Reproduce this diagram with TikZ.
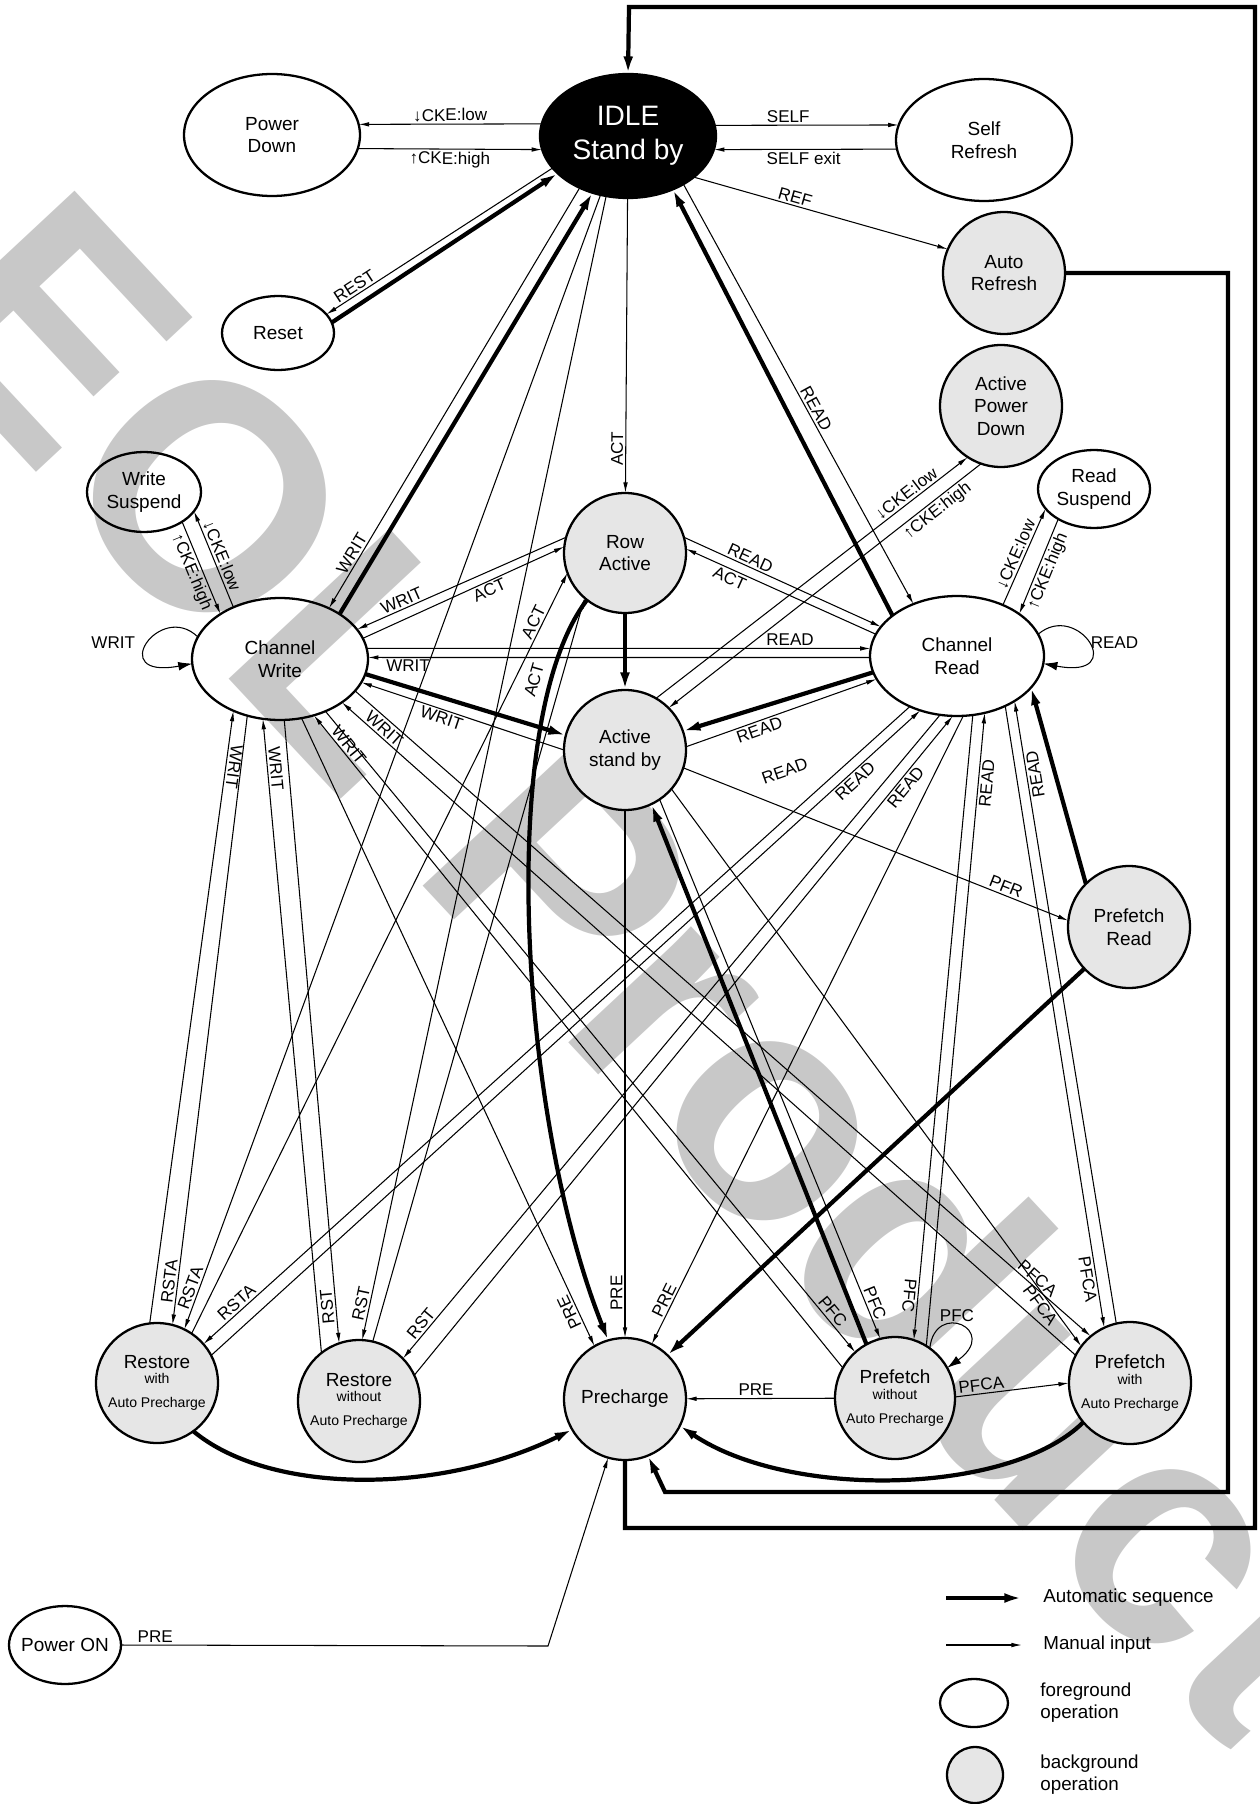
\documentclass[tikz,border=0pt]{standalone}
\usepackage{fontspec}
\setmainfont{Liberation Sans}
\usetikzlibrary{shapes.geometric,arrows.meta}

\definecolor{bgfill}{RGB}{230,230,230}
\definecolor{wmgray}{RGB}{200,200,200}
\newcommand{\smalltxt}{\fontsize{8}{9.5}\selectfont}

\tikzset{
  fgstate/.style={ellipse, draw, line width=1.3pt, inner sep=0pt, outer sep=0pt},
  bgstate/.style={fgstate, fill=bgfill},
  sz/.style 2 args={minimum width=#1cm, minimum height=#2cm},
  txt/.style={label={[align=center, font=\fontsize{10.8}{12.8}\selectfont]center:#1}},
  manarrow/.style={line width=0.6pt, >={Latex[length=6pt,width=2.6pt]}, ->},
  autoarrow/.style={line width=2.4pt, >={Latex[length=10pt,width=5.6pt]}, ->},
  looparrow/.style={line width=0.6pt, >={Latex[length=8pt,width=5pt]}, ->},
  lblp/.style={font=\fontsize{9.7}{11}\selectfont, inner sep=1.2pt},
  lbl/.style={lblp, sloped, allow upside down},
  legtxt/.style={anchor=west, align=left, inner sep=0pt, font=\fontsize{10.7}{12.5}\selectfont},
}

\begin{document}
\begin{tikzpicture}[x=0.02cm, y=-0.02cm]
\useasboundingbox (0,0) rectangle (1260,1804);

% watermark
\node[anchor=base west, rotate=-47, inner sep=0pt, text=wmgray,
      font=\fontsize{182}{182}\selectfont\bfseries] (wmark) at (-101,325) {EOL Product};

% states
\node[fgstate, fill=black, sz={3.52}{2.48},
      label={[align=center, text=white, font=\fontsize{16}{19.3}\selectfont]center:IDLE\\Stand by}] (idle) at (628,136) {};
\node[fgstate, sz={3.52}{2.44}, txt={Power\\Down}] (pwrdown) at (272,135) {};
\node[fgstate, sz={3.52}{2.44}, txt={Self\\Refresh}] (selfref) at (984,140) {};
\node[bgstate, sz={2.44}{2.44}, txt={Auto\\Refresh}] (autoref) at (1004,273) {};
\node[fgstate, sz={2.24}{1.48}, txt={Reset}] (reset) at (278,333) {};
\node[bgstate, sz={2.44}{2.44}, txt={Active\\Power\\Down}] (apd) at (1001,406) {};
\node[fgstate, sz={2.28}{1.60}, txt={Write\\Suspend}] (wsusp) at (144,492) {};
\node[fgstate, sz={2.24}{1.56}, txt={Read\\Suspend}] (rsusp) at (1094,489) {};
\node[bgstate, sz={2.44}{2.40}, txt={Row\\Active}] (rowact) at (625,553) {};
\node[fgstate, sz={3.52}{2.44}, txt={Channel\\Write}] (chw) at (280,659) {};
\node[fgstate, sz={3.48}{2.40}, txt={Channel\\Read}] (chr) at (957,656) {};
\node[bgstate, sz={2.44}{2.40}, txt={Active\\stand by}] (actsb) at (625,750) {};
\node[bgstate, sz={2.44}{2.44}, txt={Prefetch\\Read}] (pfread) at (1129,927) {};
\node[bgstate, sz={2.44}{2.40}, txt={Restore\\[-4pt]{\smalltxt with}\\[1pt]{\smalltxt Auto Precharge}}] (rsta) at (157,1383) {};
\node[bgstate, sz={2.44}{2.44}, txt={Restore\\[-4pt]{\smalltxt without}\\[1pt]{\smalltxt Auto Precharge}}] (rst) at (359,1401) {};
\node[bgstate, sz={2.44}{2.44}, txt={Precharge}] (prech) at (625,1399) {};
\node[bgstate, sz={2.40}{2.44}, txt={Prefetch\\[-4pt]{\smalltxt without}\\[1pt]{\smalltxt Auto Precharge}}] (pfc) at (895,1398) {};
\node[bgstate, sz={2.44}{2.44}, txt={Prefetch\\[-4pt]{\smalltxt with}\\[1pt]{\smalltxt Auto Precharge}}] (pfca) at (1130,1383) {};
\node[fgstate, sz={2.24}{1.56}, txt={Power ON}] (pwron) at (65,1645) {};

% IDLE and its neighbours
\draw[manarrow,<-] (pwrdown.7) -- node[lbl,above]{↓CKE:low} (idle.172);
\draw[manarrow] (pwrdown.-9) -- node[lbl,below]{↑CKE:high} (idle.189);
\draw[manarrow] (idle.7) -- node[lbl,above,pos=0.4]{SELF} (selfref.170);
\draw[manarrow,<-] (idle.-9) -- node[lbl,below,pos=0.49]{SELF exit} (selfref.186);
\draw[manarrow] (idle.-32) -- node[lbl,above,pos=0.39]{REF} (autoref.157);
\draw[manarrow,<-] (reset.21) -- node[lbl,above,pos=0.145]{REST} (idle.203);
\draw[autoarrow] (reset.11) -- (idle.208);
\draw[manarrow,<-] (chw.46) -- node[lbl,above,pos=0.12]{WRIT} (idle.227);
\draw[autoarrow] (chw.37) -- (idle.238);
\draw[manarrow] (idle.-41) -- node[lbl,above,pos=0.545]{READ} (chr.130);
\draw[autoarrow] (chr.148.5) -- (idle.-50.5);
\draw[manarrow,<-] (rowact) -- node[lbl,above,pos=0.15]{ACT} (idle);
\draw[autoarrow] (rowact) -- (actsb);

% outer frames
\draw[autoarrow] (autoref.east) -| (1228,1492) -- (665,1492) -- (prech.-68);
\draw[autoarrow] (prech.south) |- (1255,1528) |- (629,7) -- (idle.north);

% channel write
\draw[manarrow] (wsusp.-38) -- node[lbl,below]{↑CKE:high} (chw.143);
\draw[manarrow,<-] (wsusp.-21) -- node[lbl,above]{↓CKE:low} (chw.132);
\draw[looparrow] (chw.165) .. controls (160,600) and (105,680) .. node[lblp,left=6pt]{WRIT} (chw.183);
\draw[manarrow,<-] (chw.21) -- node[lbl,above,pos=0.23]{WRIT} (rowact.165.5);
\draw[manarrow] (chw.14) -- node[lbl,below,pos=0.61]{ACT} (rowact.174.5);
\draw[manarrow] (chw.7) -- node[lbl,above,pos=0.84]{READ} (chr.175);
\draw[manarrow,<-] (chw.1) -- node[lbl,below,pos=0.08]{WRIT} (chr.181);
\draw[autoarrow] (chw.-10.5) -- (actsb.166);
\draw[manarrow,<-] (chw.-16) -- node[lbl,below,pos=0.41]{WRIT} (actsb.180);

% channel read
\draw[looparrow] (chr.15) .. controls (1078,600) and (1130,680) .. node[lblp,right]{READ} (chr.-5);
\draw[autoarrow] (chr.191) -- (actsb.18);
\draw[manarrow] (actsb.3) -- node[lbl,below,pos=0.37]{READ} node[lbl,below=27pt,pos=0.42]{READ} (chr.196.5);
\draw[manarrow] (rowact.15) -- node[lbl,above,pos=0.32]{READ} (chr.159);
\draw[manarrow,<-] (rowact.4.5) -- node[lbl,below,pos=0.25]{ACT} (chr.165);
\draw[manarrow] (chr.48) -- node[lbl,above,pos=0.49]{↓CKE:low} (rsusp.202);
\draw[manarrow,<-] (chr.34.5) -- node[lbl,below,pos=0.49]{↑CKE:high} (rsusp.220);

% active stand by
\draw[manarrow] (actsb.59) -- node[lbl,above,pos=0.82]{↓CKE:low} (apd.237);
\draw[manarrow,<-] (actsb.44) -- node[lbl,below,pos=0.84]{↑CKE:high} (apd.251);
\draw[manarrow] (actsb.-17) -- node[lbl,above,pos=0.83]{PFR} (pfread.174);
\draw[autoarrow] (pfread.135.6) -- (chr.-23);
\draw[autoarrow] (pfread.223.7) -- (prech.46);

% precharge
\draw[manarrow,<-] (prech) -- node[lbl,above,pos=0.085]{PRE} (actsb);
\draw[autoarrow] (rowact.231) .. controls (495,720) and (520,1120) .. (prech.106);
\draw[manarrow,<-] (prech.120.5) -- node[lbl,above,pos=0.06]{PRE} (chw.-70);
\draw[manarrow,<-] (prech.64) -- node[lbl,above,pos=0.064]{PRE} (chr.-84.5);
\draw[manarrow,<-] (prech) -- node[lbl,above,pos=0.47]{PRE} (pfc);
\draw[autoarrow] (rsta.-53) .. controls (270,1495) and (440,1495) .. (prech.210);
\draw[autoarrow] (pfca.220) .. controls (1010,1495) and (790,1500) .. (prech.-26);
\draw[manarrow] (pwron.east) -- node[lbl,above,pos=0.08]{PRE} (548,1646) -- (prech.254);

% restore with auto precharge
\draw[manarrow,<-] (chw.228) -- node[lbl,above,pos=0.09]{WRIT} (rsta.97);
\draw[manarrow,<-] (rsta.75.5) -- node[lbl,above,pos=0.07]{RSTA} (chw.240);
\draw[manarrow,<-] (rsta.63) -- node[lbl,above,pos=0.034]{RSTA} (idle.245);
\draw[manarrow,<-] (rsta.40.5) -- node[lbl,above,pos=0.055]{RSTA} (chr.227);
\draw[manarrow] (rsta.55) -- node[lbl,above,pos=0.93]{ACT} (rowact.199.5);
\draw[manarrow] (rsta.27) -- node[lbl,below,pos=0.9]{READ} (chr.236.5);

% restore without auto precharge
\draw[manarrow,<-] (chw.254) -- node[lbl,above,pos=0.08]{WRIT} (rst.128);
\draw[manarrow,<-] (rst.109.6) -- node[lbl,above,pos=0.06]{RST} (chw.-86);
\draw[manarrow,<-] (rst.87) -- node[lbl,above,pos=0.03]{RST} (idle.250);
\draw[manarrow,<-] (rst.44.4) -- node[lbl,above,pos=0.046]{RST} (chr.254.7);
\draw[manarrow] (rst.77) -- node[lbl,above=10pt,pos=0.88]{ACT} (rowact.228);
\draw[manarrow] (rst.25) -- node[lbl,below,pos=0.9]{READ} (chr.266);

% prefetch without auto precharge
\draw[manarrow] (chw.-49) -- node[lbl,above,pos=0.945]{PFC} (pfc.131);
\draw[manarrow,<-] (chw.-59) -- node[lbl,above,pos=0.054]{WRIT} (pfc.150);
\draw[manarrow] (actsb.-55) -- node[lbl,above,pos=0.94]{PFC} (pfc.104);
\draw[manarrow] (chr.-75.3) -- node[lbl,below,pos=0.93]{PFC} (pfc.72);
\draw[manarrow] (pfc.59.5) -- node[lbl,below,pos=0.89]{READ} (chr.-64.9);
\draw[autoarrow] (pfc.118) -- (actsb.-64);
\draw[manarrow] (pfc.1) -- node[lbl,above,pos=0.24]{PFCA} (pfca.180);
\draw[looparrow] (pfc.55) .. controls (935,1300) and (1000,1330) .. node[lblp,above,pos=0.45]{PFC} (pfc.30);

% prefetch with auto precharge
\draw[manarrow] (chw.-23) -- node[lbl,above,pos=0.92]{PFCA} (pfca.130);
\draw[manarrow,<-] (chw.-35) -- node[lbl,above,pos=0.05]{WRIT} (pfca.153);
\draw[manarrow] (actsb.-40) -- node[lbl,below,pos=0.917]{PFCA} (pfca.143);
\draw[manarrow] (chr.-46.7) -- node[lbl,below,pos=0.92]{PFCA} (pfca.115.8);
\draw[manarrow] (pfca.103) -- node[lbl,below,pos=0.88]{READ} (chr.-38);

% legend
\coordinate (legA) at (946,1598);
\coordinate (legB) at (1022,1598);
\draw[autoarrow] (legA) -- (legB);
\node[legtxt] (legauto) at (1043,1598) {Automatic sequence};
\coordinate (legC) at (946,1645);
\coordinate (legD) at (1022,1645);
\draw[manarrow] (legC) -- (legD);
\node[legtxt] (legman) at (1043,1645) {Manual input};
\node[fgstate, sz={1.36}{0.96}] (legfg) at (974,1703) {};
\node[legtxt] (legfgtxt) at (1040,1703) {foreground\\operation};
\node[bgstate, sz={1.12}{1.12}] (legbg) at (975,1775) {};
\node[legtxt] (legbgtxt) at (1040,1775) {background\\operation};

\end{tikzpicture}
\end{document}
